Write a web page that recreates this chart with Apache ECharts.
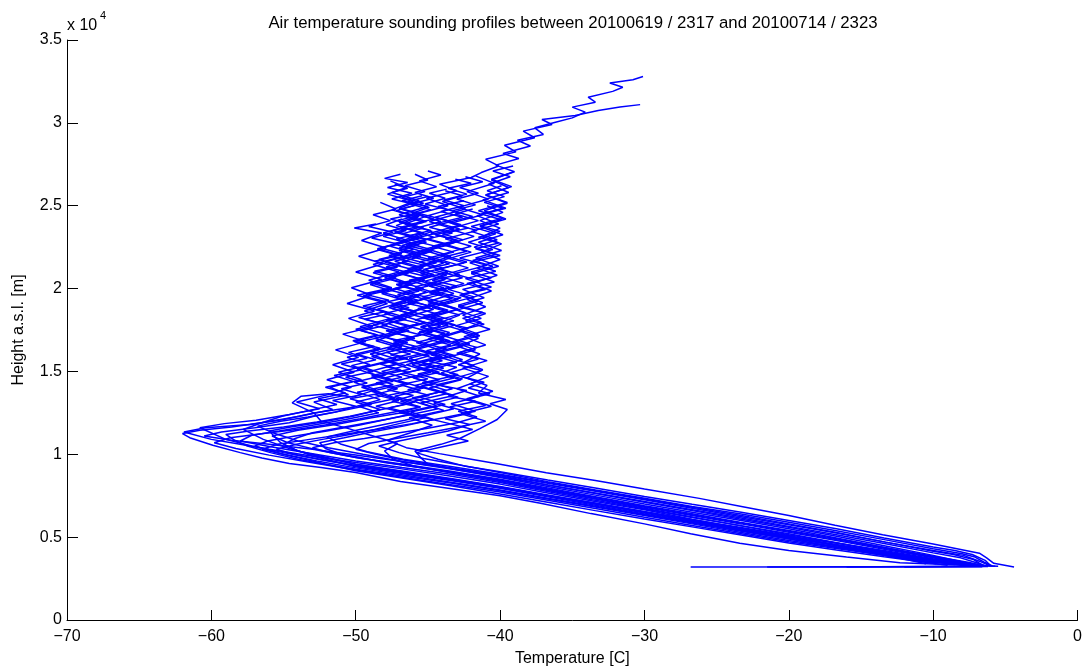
<!DOCTYPE html>
<html>
<head>
<meta charset="utf-8">
<title>Air temperature sounding profiles</title>
<script src="https://cdn.jsdelivr.net/npm/echarts@6/dist/echarts.min.js"></script>
<style>
  html, body { margin: 0; padding: 0; background: #fff; }
  #main { width: 1085px; height: 672px; }
</style>
</head>
<body>
<div id="main"></div>
<script>
// each sounding: [temperature C, height a.s.l. m]
var profile01 = [[-26.8,3200],[-6.6,3210],[-7.9,3420],[-10.0,3700],[-13.1,4150],[-16.4,4600],[-20.0,5050],[-23.2,5520],[-26.7,6080],[-30.0,6650],[-33.4,7150],[-36.9,7700],[-40.0,8200],[-43.6,8700],[-46.8,9120],[-50.0,9500],[-53.3,9920],[-56.0,10300],[-58.1,10620],[-60.0,10900],[-61.9,11350],[-60.4,11600],[-57.3,11800],[-55.0,12100],[-52.8,12500],[-50.1,12850],[-48.3,13300],[-49.9,13750],[-47.4,14200],[-48.9,14650],[-46.2,15150],[-47.8,15600],[-45.5,16050],[-47.6,16550],[-45.9,17000],[-47.9,17450],[-45.2,17950],[-46.9,18400],[-44.8,18900],[-46.6,19350],[-45.1,19800],[-47.2,20250],[-44.7,20750],[-46.4,21200],[-44.0,21700],[-45.8,22150],[-43.7,22650],[-45.6,23100],[-43.2,23600],[-44.9,24050],[-42.8,24550],[-44.3,24950],[-42.5,25300]];
var profile02 = [[-21.5,3200],[-6.2,3230],[-7.6,3480],[-10.0,3850],[-12.9,4300],[-16.5,4870],[-20.0,5400],[-23.4,5900],[-26.8,6420],[-30.0,6900],[-33.5,7450],[-36.8,7980],[-40.0,8500],[-43.4,8980],[-46.7,9400],[-50.0,9800],[-52.6,10250],[-54.7,10700],[-55.8,11100],[-54.0,11450],[-51.4,11800],[-48.9,12200],[-46.5,12550],[-44.4,12950],[-46.1,13400],[-43.7,13850],[-45.4,14300],[-42.9,14800],[-44.8,15250],[-42.6,15700],[-44.3,16200],[-42.1,16650],[-43.9,17150],[-42.2,17600],[-44.5,18050],[-42.4,18550],[-44.0,19000],[-41.8,19500],[-43.6,19950],[-41.4,20450],[-43.2,20900],[-40.9,21400],[-42.8,21850],[-40.5,22350],[-42.2,22800],[-40.3,23300],[-42.0,23750],[-39.8,24250],[-41.5,24700],[-39.5,25200],[-41.0,25650],[-39.2,26150],[-40.6,26600],[-39.0,27050],[-40.3,27450],[-38.7,27850],[-39.8,28150],[-37.9,28600],[-38.8,28950],[-37.0,29300],[-37.6,29700],[-36.1,30050],[-35.0,30300],[-34.1,30650],[-35.0,30950],[-33.4,31250],[-33.9,31550],[-32.2,31900],[-31.5,32150],[-32.4,32400],[-30.8,32600],[-30.1,32800]];
var profile03 = [[-7.5,3300],[-10.0,3650],[-13.2,4100],[-16.6,4650],[-20.0,5200],[-23.5,5720],[-26.9,6220],[-30.0,6700],[-33.6,7250],[-36.9,7780],[-40.0,8300],[-43.3,8780],[-46.8,9200],[-50.0,9600],[-53.1,10050],[-55.9,10450],[-58.0,10800],[-57.2,11150],[-55.3,11400],[-53.0,11750],[-50.7,12100],[-48.4,12500],[-49.8,12900],[-47.3,13350],[-48.9,13800],[-46.6,14250],[-48.4,14700],[-49.9,15150],[-47.6,15600],[-49.0,16050],[-46.8,16500],[-48.7,17000],[-46.3,17450],[-47.8,17900],[-45.9,18400],[-47.7,18850],[-46.0,19300],[-48.3,19800],[-46.1,20250],[-47.6,20700],[-45.4,21200],[-47.3,21650],[-45.1,22150],[-46.8,22600],[-44.6,23100],[-46.2,23550],[-44.1,24050],[-45.8,24500],[-43.6,25000],[-45.1,25450],[-43.0,25900],[-44.2,26300],[-42.0,26700],[-41.3,27000],[-40.1,27400],[-41.0,27800],[-38.9,28250],[-39.7,28650],[-37.6,29100],[-38.4,29500],[-36.4,29900],[-37.1,30200],[-34.8,30450],[-33.2,30750],[-31.7,30950],[-30.3,31100]];
var profile04 = [[-4.4,3200],[-5.8,3420],[-6.3,3750],[-6.8,4030],[-10.0,4580],[-13.5,5150],[-16.8,5720],[-20.0,6300],[-23.1,6820],[-26.2,7340],[-30.0,7900],[-33.4,8420],[-36.8,8880],[-40.0,9400],[-42.3,9750],[-44.2,10040],[-46.5,10400],[-47.8,10850],[-46.2,11300],[-44.7,11750],[-46.3,12200],[-43.9,12650],[-45.5,13100],[-43.2,13550],[-44.9,14000],[-42.7,14500],[-44.6,14950],[-46.1,15400],[-44.0,15900],[-45.7,16350],[-43.5,16850],[-45.2,17300],[-43.1,17800],[-44.8,18250],[-42.9,18750],[-45.0,19200],[-43.2,19700],[-44.9,20150],[-42.6,20650],[-44.5,21100],[-42.3,21600],[-44.1,22050],[-42.0,22550],[-43.8,23000],[-41.6,23500],[-43.4,23950],[-41.2,24450],[-42.9,24900],[-40.8,25400],[-42.3,25850],[-40.4,26350],[-41.7,26800]];
var profile05 = [[-5.5,3250],[-8.6,3340],[-12.3,3450],[-16.0,3800],[-20.0,4200],[-23.4,4630],[-26.8,5200],[-30.0,5800],[-33.7,6420],[-37.2,7040],[-40.0,7500],[-43.6,7950],[-46.9,8360],[-50.0,8900],[-52.4,9200],[-54.6,9440],[-56.5,9780],[-58.0,10100],[-59.9,10550],[-61.5,11000],[-62.0,11250],[-60.8,11450],[-58.6,11650],[-56.2,11950],[-53.9,12300],[-51.6,12700],[-52.9,13150],[-50.5,13600],[-51.8,14050],[-49.6,14500],[-51.2,14950],[-49.0,15400],[-50.6,15850],[-48.4,16300],[-50.1,16800],[-48.0,17250],[-49.7,17700],[-47.6,18200],[-49.4,18650],[-47.8,19100],[-49.9,19600],[-47.5,20050],[-49.1,20500],[-47.0,21000],[-48.8,21450],[-46.7,21950],[-48.5,22400],[-46.4,22900],[-48.1,23350],[-46.0,23850],[-47.6,24200],[-45.9,24500]];
var profile06 = [[-8.5,3350],[-10.0,3550],[-13.3,4000],[-16.6,4500],[-20.0,5000],[-23.4,5480],[-26.6,5980],[-30.0,6500],[-33.5,7020],[-36.7,7500],[-40.0,8000],[-43.4,8450],[-46.8,8880],[-50.0,9300],[-52.6,9700],[-55.0,10100],[-57.2,10500],[-59.0,10900],[-60.8,11600],[-59.1,11850],[-56.9,12050],[-54.6,12400],[-52.5,12750],[-54.1,13150],[-51.9,13600],[-50.3,14050],[-52.0,14500],[-50.1,14950],[-51.6,15400],[-49.8,15850],[-51.4,16300],[-49.3,16800],[-50.9,17250],[-48.8,17700],[-50.5,18200],[-48.7,18650],[-50.6,19100],[-48.9,19600],[-50.3,20050],[-48.2,20550],[-50.0,21000],[-48.1,21500],[-49.8,21950],[-47.9,22450],[-49.6,22900],[-48.2,23350],[-50.1,23650],[-48.6,23900]];
var profile07 = [[-16.0,3200],[-7.2,3260],[-8.4,3380],[-10.0,3500],[-13.3,3950],[-16.7,4380],[-20.0,4800],[-23.4,5300],[-26.7,5800],[-30.0,6300],[-33.3,6800],[-36.8,7320],[-40.0,7800],[-43.3,8250],[-46.7,8680],[-50.0,9100],[-52.1,9400],[-54.0,9700],[-55.9,10100],[-57.5,10500],[-58.4,10850],[-59.0,11200],[-57.4,11400],[-55.0,11650],[-52.7,11950],[-50.4,12300],[-48.2,12700],[-46.1,13100],[-47.8,13550],[-45.3,14000],[-47.1,14450],[-44.8,14950],[-46.5,15400],[-44.2,15900],[-46.0,16350],[-43.9,16850],[-45.7,17300],[-43.6,17800],[-45.4,18250],[-43.8,18700],[-46.0,19200],[-44.1,19650],[-45.9,20100],[-43.7,20600],[-45.5,21050],[-43.9,21550],[-46.0,22000],[-44.2,22500],[-46.3,22950],[-44.7,23450],[-46.6,23900],[-45.0,24400],[-47.0,24850],[-45.6,25300],[-47.5,25800],[-46.4,26050],[-47.3,26300]];
var profile08 = [[-9.0,3300],[-10.0,3420],[-13.4,3820],[-16.7,4230],[-20.0,4650],[-23.3,5130],[-26.7,5620],[-30.0,6100],[-33.4,6600],[-36.7,7100],[-40.0,7600],[-43.3,8080],[-46.7,8550],[-50.0,9000],[-51.6,9300],[-53.0,9600],[-54.8,9950],[-56.5,10300],[-55.4,10600],[-53.2,10900],[-50.9,11200],[-48.5,11500],[-46.1,11850],[-43.9,12200],[-41.7,12600],[-43.4,13050],[-41.4,13500],[-43.0,13950],[-41.6,14400],[-43.5,14900],[-41.8,15350],[-43.6,15850],[-41.7,16300],[-43.3,16800],[-41.5,17250],[-43.1,17750],[-41.3,18200],[-43.0,18700],[-41.2,19150],[-42.7,19650],[-40.6,20100],[-42.4,20600],[-40.3,21050],[-42.1,21550],[-40.0,22000],[-41.8,22500],[-40.2,22950],[-42.0,23450],[-40.1,23900],[-41.6,24400],[-39.6,24850],[-41.2,25350],[-39.4,25800],[-40.8,26300],[-39.3,26750],[-40.5,27100],[-39.1,27400]];
var profile09 = [[-7.0,3250],[-8.3,3480],[-10.0,3750],[-13.3,4250],[-16.6,4780],[-20.0,5300],[-23.3,5800],[-26.7,6300],[-30.0,6800],[-33.4,7330],[-36.8,7870],[-40.0,8400],[-42.9,8820],[-45.6,9200],[-48.0,9500],[-49.7,9800],[-51.0,10000],[-52.1,10350],[-52.5,10700],[-50.8,11000],[-48.9,11350],[-46.7,11700],[-44.6,12100],[-46.2,12550],[-43.8,13000],[-45.6,13450],[-43.3,13950],[-45.1,14400],[-46.9,14850],[-44.7,15300],[-46.3,15800],[-44.0,16250],[-45.8,16750],[-43.7,17200],[-45.5,17700],[-44.0,18150],[-46.2,18600],[-44.3,19100],[-46.0,19550],[-43.9,20050],[-45.7,20500],[-43.6,21000],[-45.3,21450],[-43.4,21950],[-45.1,22400],[-42.9,22900],[-44.8,23350],[-42.7,23850],[-44.5,24300],[-42.4,24800],[-44.0,25250],[-42.6,25600],[-43.8,25900]];
var profile10 = [[-6.8,3260],[-8.2,3550],[-10.0,3900],[-13.4,4480],[-16.7,5050],[-20.0,5600],[-23.4,6100],[-26.7,6600],[-30.0,7100],[-33.3,7620],[-36.7,8150],[-40.0,8700],[-43.6,9200],[-47.0,9700],[-48.6,10000],[-50.0,10300],[-49.1,10650],[-47.2,10950],[-45.0,11300],[-42.9,11650],[-41.0,12000],[-42.7,12450],[-40.6,12900],[-42.3,13350],[-40.5,13800],[-42.1,14250],[-40.8,14700],[-42.6,15200],[-40.9,15650],[-42.8,16150],[-41.0,16600],[-42.5,17100],[-40.7,17550],[-42.4,18050],[-41.0,18500],[-42.9,19000],[-41.1,19450],[-42.6,19950],[-40.4,20400],[-42.0,20900],[-40.1,21350],[-41.7,21850],[-39.9,22300],[-41.5,22800],[-39.8,23250],[-41.4,23750],[-39.6,24200],[-41.1,24700],[-39.5,25150],[-41.0,25650],[-39.4,26100],[-40.6,26550],[-39.2,27000]];
var profile11 = [[-10.5,3400],[-13.5,3950],[-16.8,4500],[-20.0,5100],[-23.3,5580],[-26.7,6050],[-30.0,6550],[-33.4,7060],[-36.7,7550],[-40.0,8050],[-43.3,8520],[-46.7,8970],[-50.0,9400],[-52.0,9800],[-54.0,10200],[-55.2,10700],[-56.0,11400],[-54.5,11650],[-52.3,11950],[-50.2,12300],[-48.3,12700],[-50.0,13150],[-47.8,13600],[-49.6,14050],[-47.5,14500],[-49.2,14950],[-47.1,15450],[-48.9,15900],[-46.8,16400],[-48.6,16850],[-46.9,17350],[-48.8,17800],[-46.7,18300],[-48.5,18750],[-46.5,19250],[-48.2,19700],[-46.3,20200],[-48.0,20650],[-46.1,21150],[-48.0,21600],[-45.8,22100],[-47.6,22550],[-45.6,23050],[-47.4,23500],[-45.3,24000],[-47.0,24450],[-45.0,24950],[-46.8,25300],[-45.4,25600]];
var profile12 = [[-8.0,3300],[-10.0,3600],[-13.4,4120],[-16.7,4640],[-20.0,5150],[-23.3,5680],[-26.6,6200],[-30.0,6750],[-33.3,7280],[-36.7,7820],[-40.0,8350],[-43.0,8820],[-46.0,9300],[-47.4,9700],[-48.0,10200],[-47.1,10650],[-48.8,11100],[-50.5,11550],[-52.4,12000],[-52.9,12500],[-54.4,13100],[-53.8,13500],[-51.9,13650],[-50.2,13450],[-48.6,13900],[-50.1,14350],[-47.9,14800],[-49.5,15250],[-47.2,15750],[-48.9,16200],[-46.6,16700],[-48.3,17150],[-46.1,17650],[-47.9,18100],[-45.8,18600],[-47.5,19050],[-45.6,19550],[-47.3,20000],[-45.2,20500],[-47.0,20950],[-44.9,21450],[-46.8,21900],[-45.0,22400],[-46.9,22850],[-45.3,23350],[-47.2,23800],[-45.7,24300],[-47.5,24750],[-46.0,25250],[-47.8,25700],[-46.5,26100],[-47.6,26500]];
var profile13 = [[-9.8,3400],[-13.3,3880],[-16.6,4380],[-20.0,4900],[-23.3,5400],[-26.7,5900],[-30.0,6400],[-33.4,6920],[-36.7,7430],[-40.0,7950],[-43.3,8400],[-46.7,8830],[-50.0,9250],[-51.6,9600],[-53.0,9900],[-54.1,10250],[-55.0,10600],[-54.2,10950],[-53.0,11300],[-50.8,11650],[-48.6,12000],[-46.4,12350],[-44.3,12750],[-46.0,13200],[-43.7,13650],[-45.5,14100],[-43.2,14600],[-45.0,15050],[-43.0,15550],[-44.8,16000],[-42.6,16500],[-44.4,16950],[-42.5,17450],[-44.3,17900],[-42.8,18400],[-44.7,18850],[-42.9,19350],[-44.6,19800],[-42.5,20300],[-44.2,20750],[-42.2,21250],[-44.0,21700],[-42.0,22200],[-43.7,22650],[-41.8,23150],[-43.5,23600],[-41.5,24100],[-43.1,24500],[-41.9,24800]];
var profile14 = [[-6.4,3240],[-8.0,3500],[-10.0,3800],[-13.4,4380],[-16.7,4950],[-20.0,5500],[-23.3,6000],[-26.7,6500],[-30.0,7000],[-33.3,7520],[-36.7,8050],[-40.0,8600],[-42.6,9000],[-45.0,9400],[-45.5,9800],[-45.9,10200],[-44.1,10600],[-42.8,10950],[-41.4,11550],[-40.2,12100],[-39.5,12700],[-40.7,13050],[-39.6,13300],[-41.5,13700],[-40.9,14150],[-42.3,14600],[-41.2,15100],[-42.5,15550],[-41.4,16050],[-42.9,16500],[-41.5,17000],[-42.8,17450],[-41.3,17950],[-42.6,18400],[-41.0,18900],[-42.3,19350],[-40.6,19850],[-41.9,20300],[-40.2,20800],[-41.6,21250],[-40.0,21750],[-41.3,22200],[-39.9,22700],[-41.2,23150],[-40.0,23650],[-41.4,24100],[-39.8,24600],[-40.9,25000]];
var profile15 = [[-5.9,3260],[-6.5,3500],[-7.1,3800],[-8.0,4000],[-10.0,4300],[-13.4,4850],[-16.8,5400],[-20.0,5900],[-23.3,6400],[-26.7,6850],[-30.0,7350],[-33.4,7850],[-36.7,8350],[-40.0,8900],[-42.8,9350],[-45.3,9750],[-47.0,10100],[-48.4,10500],[-47.0,10800],[-45.3,11100],[-43.6,11400],[-42.1,11800],[-43.8,12150],[-42.0,12500],[-43.5,12850],[-41.7,13200],[-43.6,13500],[-42.3,13850],[-44.4,14200],[-42.6,14550],[-44.1,14900],[-43.0,15250],[-44.9,15600],[-43.1,15950],[-44.5,16300],[-42.8,16650],[-44.3,17000],[-43.5,17350],[-45.0,17700],[-43.2,18050],[-44.6,18400],[-42.9,18750],[-44.1,19100],[-42.7,19450],[-44.4,19800],[-43.0,20150],[-44.7,20500],[-42.8,20850],[-44.2,21200],[-42.5,21550],[-43.9,21900],[-42.3,22250],[-43.8,22600],[-42.6,22950],[-44.0,23300],[-42.2,23650],[-43.6,24000],[-41.9,24350],[-43.3,24700],[-41.7,25050],[-43.0,25400],[-41.5,25750],[-42.8,26100],[-41.2,26450],[-42.4,26750]];
var profile16 = [[-6.1,3280],[-6.8,3550],[-7.9,3900],[-10.0,4200],[-13.3,4700],[-16.7,5250],[-20.0,5750],[-23.4,6250],[-26.7,6750],[-30.0,7250],[-33.3,7750],[-36.7,8250],[-40.0,8750],[-43.3,9150],[-46.7,9550],[-50.0,9950],[-53.0,10300],[-56.0,10600],[-58.6,10850],[-60.5,11100],[-59.3,11350],[-57.0,11600],[-54.6,11900],[-52.9,12300],[-50.8,12650],[-48.9,13000],[-50.4,13350],[-48.2,13700],[-49.5,14050],[-47.4,14400],[-48.9,14750],[-46.9,15100],[-48.3,15450],[-46.4,15800],[-47.9,16150],[-45.8,16500],[-47.4,16850],[-45.5,17200],[-47.0,17550],[-45.6,17900],[-47.3,18250],[-45.9,18600],[-47.6,18950],[-45.7,19300],[-47.1,19650],[-45.3,20000],[-46.8,20350],[-45.0,20700],[-46.6,21050],[-45.2,21400],[-46.9,21750],[-45.4,22100],[-47.0,22450],[-45.1,22800],[-46.5,23150],[-44.8,23500],[-46.3,23850],[-44.6,24200],[-46.1,24550],[-44.9,24900],[-46.4,25250],[-45.0,25550]];
var profile17 = [[-5.7,3250],[-7.4,3330],[-10.0,3550],[-13.4,3980],[-16.7,4420],[-20.0,4880],[-23.3,5360],[-26.7,5850],[-30.0,6350],[-33.3,6850],[-36.7,7350],[-40.0,7850],[-43.3,8300],[-46.7,8750],[-50.0,9180],[-52.7,9600],[-55.2,10050],[-57.0,10500],[-56.1,10800],[-54.2,11100],[-52.0,11400],[-49.8,11750],[-47.9,12100],[-46.1,12450],[-47.7,12800],[-45.9,13150],[-47.3,13500],[-45.5,13850],[-46.9,14200],[-45.0,14550],[-46.6,14900],[-44.8,15250],[-46.3,15600],[-44.9,15950],[-46.8,16300],[-45.1,16650],[-46.5,17000],[-44.7,17350],[-46.2,17700],[-44.5,18050],[-46.0,18400],[-44.6,18750],[-46.4,19100],[-44.9,19450],[-46.7,19800],[-45.0,20150],[-46.3,20500],[-44.6,20850],[-46.0,21200],[-44.4,21550],[-46.1,21900],[-44.7,22250],[-46.5,22600],[-45.1,22950],[-46.8,23300],[-45.3,23650],[-47.0,24000],[-45.6,24350],[-47.2,24700],[-45.8,25050],[-47.5,25400],[-46.1,25750],[-47.8,26100],[-46.4,26400],[-48.0,26650],[-46.9,26900]];
var profile18 = [[-7.8,3300],[-8.9,3600],[-10.0,3780],[-13.3,4320],[-16.7,4850],[-20.0,5350],[-23.3,5850],[-26.7,6350],[-30.0,6850],[-33.3,7380],[-36.7,7900],[-40.0,8450],[-43.3,8900],[-46.7,9350],[-49.6,9750],[-51.8,10100],[-53.0,10400],[-51.5,10700],[-49.4,10950],[-47.3,11250],[-45.1,11550],[-43.0,11900],[-41.6,12250],[-42.9,12600],[-41.0,12950],[-42.4,13300],[-40.7,13650],[-42.2,14000],[-41.1,14350],[-42.7,14700],[-41.3,15050],[-42.9,15400],[-41.5,15750],[-43.0,16100],[-41.6,16450],[-43.1,16800],[-41.4,17150],[-42.8,17500],[-41.1,17850],[-42.6,18200],[-41.2,18550],[-42.9,18900],[-41.5,19250],[-42.8,19600],[-41.0,19950],[-42.3,20300],[-40.6,20650],[-42.0,21000],[-40.5,21350],[-41.9,21700],[-40.3,22050],[-41.7,22400],[-40.1,22750],[-41.5,23100],[-40.0,23450],[-41.4,23800],[-39.9,24150],[-41.3,24500],[-39.8,24850],[-41.1,25200],[-39.7,25550],[-40.9,25900],[-39.9,26200]];
var profile19 = [[-12.0,3200],[-6.3,3240],[-7.0,3450],[-8.1,3750],[-10.0,4050],[-13.3,4600],[-16.7,5150],[-20.0,5650],[-23.3,6150],[-26.7,6650],[-30.0,7150],[-33.3,7650],[-36.7,8150],[-40.0,8650],[-43.3,9100],[-46.7,9550],[-49.5,10000],[-51.9,10400],[-54.0,10800],[-55.6,11250],[-56.8,11700],[-55.2,12000],[-53.3,12250],[-51.4,12550],[-50.0,12900],[-51.6,13250],[-49.6,13600],[-51.0,13950],[-49.2,14300],[-50.7,14650],[-48.8,15000],[-50.3,15350],[-48.6,15700],[-50.0,16050],[-48.3,16400],[-49.9,16750],[-48.1,17100],[-49.6,17450],[-47.8,17800],[-49.4,18150],[-47.6,18500],[-49.2,18850],[-47.9,19200],[-49.5,19550],[-47.7,19900],[-49.0,20250],[-47.3,20600],[-48.8,20950],[-47.1,21300],[-48.7,21650],[-47.0,22000],[-48.5,22350],[-47.2,22700],[-48.9,23050],[-47.4,23400],[-49.1,23750],[-47.6,24100],[-48.8,24450],[-47.2,24800],[-48.3,25200]];
var profile20 = [[-6.9,3270],[-8.5,3380],[-10.0,3480],[-13.4,3900],[-16.7,4320],[-20.0,4720],[-23.3,5200],[-26.7,5700],[-30.0,6200],[-33.3,6720],[-36.7,7230],[-40.0,7720],[-43.3,8150],[-46.7,8600],[-50.0,9050],[-53.1,9500],[-56.0,9950],[-58.3,10350],[-59.8,10700],[-58.7,11000],[-56.4,11250],[-54.1,11500],[-51.9,11800],[-49.7,12150],[-47.6,12500],[-45.5,12850],[-46.9,13200],[-44.9,13550],[-46.4,13900],[-44.5,14250],[-46.0,14600],[-44.2,14950],[-45.8,15300],[-44.0,15650],[-45.4,16000],[-43.7,16350],[-45.3,16700],[-43.9,17050],[-45.6,17400],[-44.1,17750],[-45.9,18100],[-44.3,18450],[-45.7,18800],[-43.9,19150],[-45.4,19500],[-43.6,19850],[-45.1,20200],[-43.8,20550],[-45.5,20900],[-44.0,21250],[-45.6,21600],[-43.9,21950],[-45.2,22300],[-43.5,22650],[-45.0,23000],[-43.3,23350],[-44.9,23700],[-43.4,24050],[-45.0,24400],[-43.6,24750],[-45.2,25100],[-43.8,25450],[-44.9,25750],[-43.7,26000]];
var profile21 = [[-6.0,3250],[-6.4,3600],[-7.3,3950],[-8.5,4200],[-10.0,4400],[-13.4,4950],[-16.7,5500],[-20.0,6000],[-23.3,6500],[-26.7,6980],[-30.0,7450],[-33.3,7950],[-36.7,8450],[-40.0,8950],[-42.5,9300],[-44.3,9700],[-45.8,10100],[-44.0,10450],[-42.2,10800],[-43.7,11150],[-41.9,11500],[-43.5,11850],[-45.2,12200],[-47.0,12500],[-45.6,12850],[-47.5,13200],[-46.0,13550],[-47.8,13900],[-46.3,14250],[-48.0,14600],[-46.4,14950],[-47.9,15300],[-46.1,15650],[-47.6,16000],[-45.9,16350],[-47.4,16700],[-46.0,17050],[-47.7,17400],[-46.2,17750],[-47.8,18100],[-46.0,18450],[-47.5,18800],[-45.8,19150],[-47.3,19500],[-45.6,19850],[-47.1,20200],[-45.4,20550],[-46.9,20900],[-45.3,21250],[-46.8,21600],[-45.5,21950],[-47.0,22300],[-45.6,22650],[-47.2,23000],[-45.4,23350],[-46.9,23700],[-45.1,24050],[-46.5,24400],[-44.8,24750],[-46.2,25100],[-44.6,25450],[-45.9,25800],[-44.4,26150],[-45.6,26500],[-44.1,26850],[-45.0,27100]];
var profile22 = [[-7.3,3290],[-8.7,3450],[-10.0,3620],[-13.3,4080],[-16.7,4560],[-20.0,5020],[-23.3,5520],[-26.7,6020],[-30.0,6520],[-33.3,7020],[-36.7,7520],[-40.0,8020],[-43.3,8480],[-46.7,8950],[-50.0,9400],[-52.5,9850],[-54.6,10350],[-56.4,10900],[-57.8,11500],[-56.5,11900],[-55.1,12300],[-53.2,12650],[-51.3,13000],[-52.6,13350],[-50.7,13700],[-52.1,14050],[-50.2,14400],[-51.5,14750],[-49.6,15100],[-51.0,15450],[-49.2,15800],[-50.5,16150],[-48.7,16500],[-50.2,16850],[-48.5,17200],[-50.0,17550],[-48.2,17900],[-49.8,18250],[-48.0,18600],[-49.5,18950],[-47.7,19300],[-49.3,19650],[-47.5,20000],[-49.0,20350],[-47.2,20700],[-48.7,21050],[-46.9,21400],[-48.4,21750],[-46.8,22100],[-48.3,22450],[-46.6,22800],[-48.1,23150],[-46.5,23500],[-47.9,23850],[-46.8,24200]];
var profile23 = [[-6.5,3260],[-7.2,3650],[-8.6,3950],[-10.0,4150],[-13.3,4700],[-16.7,5280],[-20.0,5800],[-23.3,6300],[-26.7,6800],[-30.0,7300],[-33.3,7800],[-36.7,8300],[-40.0,8800],[-43.3,9250],[-46.7,9700],[-49.2,10150],[-51.0,10600],[-52.0,11050],[-50.2,11400],[-48.3,11750],[-46.6,12050],[-44.9,12400],[-43.2,12750],[-44.6,13100],[-42.9,13450],[-44.4,13800],[-45.9,14150],[-44.2,14500],[-45.7,14850],[-43.9,15200],[-45.4,15550],[-43.6,15900],[-45.1,16250],[-43.4,16600],[-45.0,16950],[-43.8,17300],[-45.5,17650],[-43.9,18000],[-45.3,18350],[-43.6,18700],[-45.0,19050],[-43.3,19400],[-44.9,19750],[-43.5,20100],[-45.2,20450],[-43.7,20800],[-45.3,21150],[-43.5,21500],[-45.0,21850],[-43.2,22200],[-44.7,22550],[-43.0,22900],[-44.5,23250],[-42.8,23600],[-44.3,23950],[-42.6,24300],[-44.1,24650],[-42.5,25000],[-43.9,25350],[-42.3,25700],[-43.6,26050],[-42.0,26350],[-43.1,26600]];
var profile24 = [[-7.6,3300],[-8.9,3470],[-10.0,3580],[-13.3,4030],[-16.7,4500],[-20.0,4950],[-23.3,5450],[-26.7,5950],[-30.0,6450],[-33.3,6980],[-36.7,7480],[-40.0,7980],[-43.3,8430],[-46.7,8900],[-50.0,9330],[-52.4,9680],[-54.3,10000],[-55.5,10300],[-54.1,10600],[-52.3,10900],[-50.4,11200],[-48.7,11500],[-47.0,11850],[-45.2,12200],[-46.8,12550],[-48.6,12900],[-47.0,13250],[-48.7,13600],[-47.1,13950],[-48.6,14300],[-46.8,14650],[-48.2,15000],[-46.5,15350],[-48.0,15700],[-46.2,16050],[-47.8,16400],[-46.4,16750],[-48.1,17100],[-46.6,17450],[-48.2,17800],[-46.5,18150],[-48.0,18500],[-46.3,18850],[-47.8,19200],[-46.0,19550],[-47.6,19900],[-46.1,20250],[-47.8,20600],[-46.3,20950],[-47.9,21300],[-46.4,21650],[-47.7,22000],[-46.0,22350],[-47.4,22700],[-45.8,23050],[-47.3,23400],[-45.7,23750],[-47.1,24100],[-45.5,24450],[-46.9,24800],[-45.3,25150],[-46.8,25500],[-45.2,25850],[-46.6,26200],[-45.0,26550],[-45.9,26900]];

var profiles = [profile01, profile02, profile03, profile04, profile05, profile06, profile07, profile08,
  profile09, profile10, profile11, profile12, profile13, profile14, profile15, profile16,
  profile17, profile18, profile19, profile20, profile21, profile22, profile23, profile24];

var font = '"Liberation Sans", Arial, Helvetica, sans-serif';

function minus(v) {
  return String(v).replace('-', '\u2212');
}

var chart = echarts.init(document.getElementById('main'), null, { renderer: 'canvas' });

chart.setOption({
  animation: false,
  backgroundColor: '#fff',
  title: {
    text: 'Air temperature sounding profiles between 20100619 / 2317 and 20100714 / 2323',
    left: 568,
    textAlign: 'center',
    top: 10,
    textStyle: { fontFamily: font, fontSize: 16.8, fontWeight: 'normal', color: '#000' }
  },
  grid: { left: 67, right: 7, top: 40, bottom: 50, containLabel: false },
  xAxis: {
    type: 'value',
    min: -70,
    max: 0,
    interval: 10,
    name: 'Temperature [C]',
    nameLocation: 'middle',
    nameGap: 31,
    nameTextStyle: { fontFamily: font, fontSize: 16, color: '#000' },
    axisLine: { onZero: false, lineStyle: { color: '#000', width: 1 } },
    axisTick: { inside: true, length: 10, lineStyle: { color: '#000' } },
    axisLabel: { margin: 9, fontFamily: font, fontSize: 16, color: '#000', formatter: minus },
    splitLine: { show: false }
  },
  yAxis: {
    type: 'value',
    min: 0,
    max: 35000,
    interval: 5000,
    name: 'Height a.s.l. [m]',
    nameLocation: 'middle',
    nameRotate: 90,
    nameGap: 40,
    nameTextStyle: { fontFamily: font, fontSize: 16, color: '#000' },
    axisLine: { onZero: false, lineStyle: { color: '#000', width: 1 } },
    axisTick: { inside: true, length: 11, lineStyle: { color: '#000' } },
    axisLabel: {
      margin: 5, fontFamily: font, fontSize: 16, color: '#000',
      formatter: function (v) { return String(v / 10000); }
    },
    splitLine: { show: false }
  },
  // "x 10^4" exponent marker above the y axis
  graphic: [
    { type: 'text', left: 67, top: 18, style: { text: 'x 10', font: '16px ' + font, fill: '#000' } },
    { type: 'text', left: 100, top: 10, style: { text: '4', font: '11px ' + font, fill: '#000' } }
  ],
  series: profiles.map(function (p, i) {
    return {
      name: 'sounding ' + (i + 1),
      type: 'line',
      data: p,
      showSymbol: false,
      symbol: 'none',
      silent: true,
      lineStyle: { color: '#0000ff', width: 1.5 }
    };
  })
});
</script>
</body>
</html>
